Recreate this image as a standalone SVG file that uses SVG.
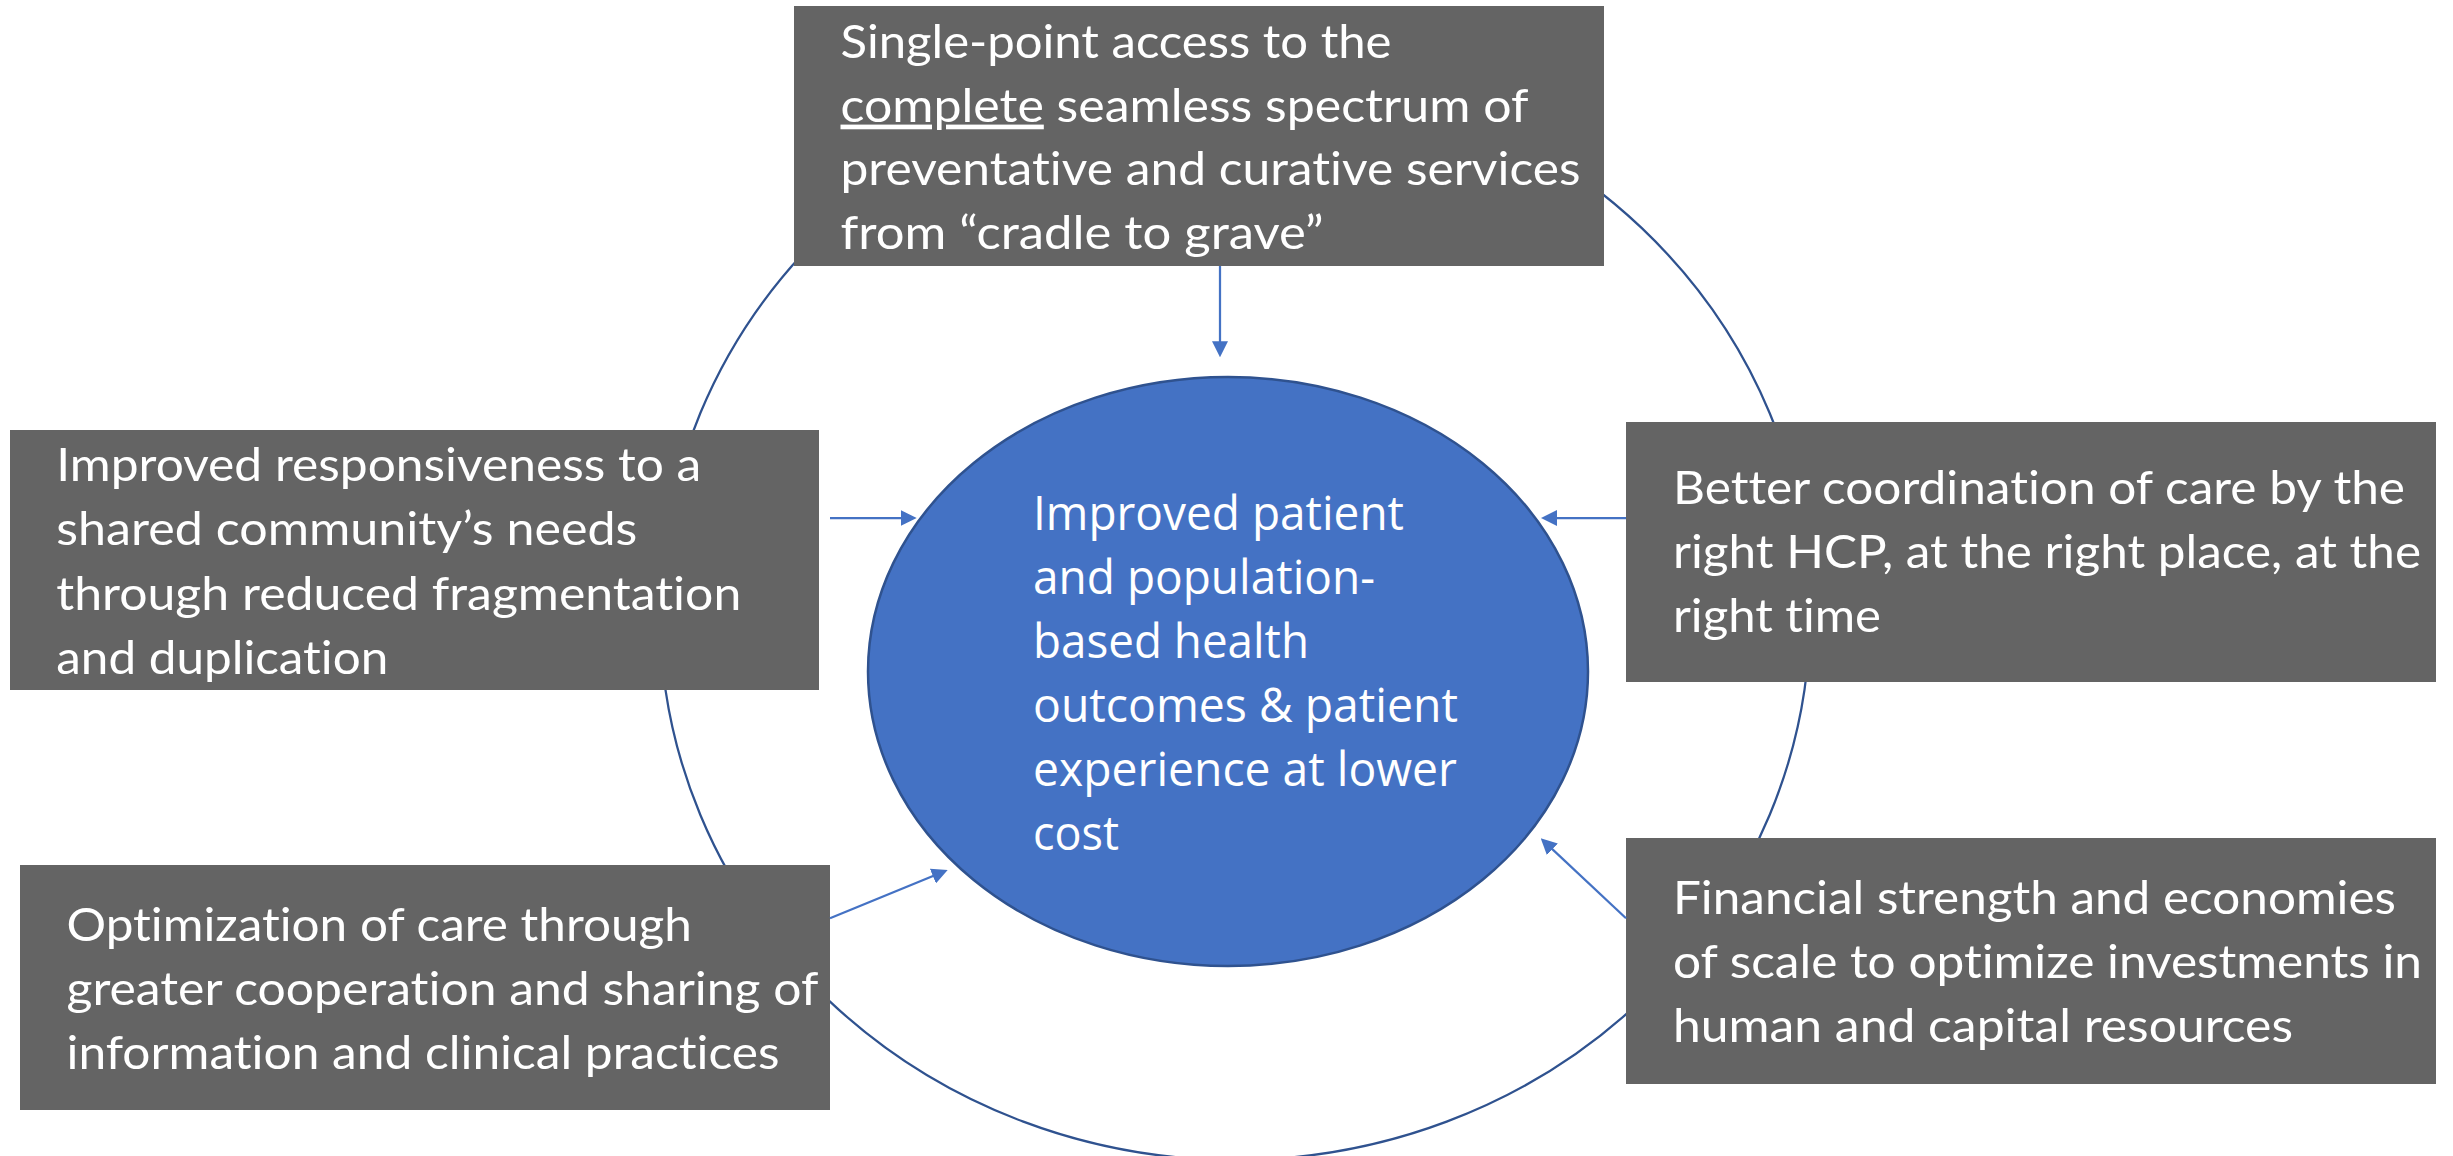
<svg xmlns="http://www.w3.org/2000/svg" width="2453" height="1156" viewBox="0 0 2453 1156">
  <style>
    .box { fill: #646464; }
    .bt { font-family: Lato, "Liberation Sans", sans-serif; font-size: 47px; fill: #ffffff; font-variant-ligatures: none; }
    .et { font-family: "Open Sans", "Liberation Sans", sans-serif; font-size: 47px; fill: #ffffff; font-variant-ligatures: none; }
    .ring { fill: none; stroke: #2F528F; stroke-width: 2.25; }
    .conn { fill: none; stroke: #4472C4; stroke-width: 2.25; marker-end: url(#ah); }
    .ul { text-decoration: underline; }
  </style>
  <defs>
    <marker id="ah" viewBox="0 0 16 16" refX="10" refY="8" markerWidth="16" markerHeight="16" markerUnits="userSpaceOnUse" orient="auto">
      <path d="M0,0 L16,8 L0,16 z" fill="#4472C4"/>
    </marker>
  </defs>
  <rect x="0" y="0" width="2453" height="1156" fill="#ffffff"/>

  <g id="ring">
    <ellipse class="ring" cx="1235" cy="614" rx="575" ry="546"/>
  </g>

  <g id="node-top">
    <rect class="box" x="794" y="6" width="810" height="260"/>
    <text class="bt" x="840.5" y="58" textLength="551" lengthAdjust="spacingAndGlyphs">Single-point access to the</text>
    <text class="bt" x="840.5" y="121.6" textLength="688" lengthAdjust="spacingAndGlyphs"><tspan class="ul">complete</tspan> seamless spectrum of</text>
    <text class="bt" x="840.5" y="185.2" textLength="740" lengthAdjust="spacingAndGlyphs">preventative and curative services</text>
    <text class="bt" x="840.5" y="248.8" textLength="483" lengthAdjust="spacingAndGlyphs">from “cradle to grave”</text>
  </g>

  <g id="node-left">
    <rect class="box" x="10" y="430" width="809" height="260"/>
    <text class="bt" x="56.3" y="481" textLength="645" lengthAdjust="spacingAndGlyphs">Improved responsiveness to a</text>
    <text class="bt" x="56.3" y="545" textLength="581" lengthAdjust="spacingAndGlyphs">shared community’s needs</text>
    <text class="bt" x="56.3" y="609.5" textLength="685" lengthAdjust="spacingAndGlyphs">through reduced fragmentation</text>
    <text class="bt" x="56.3" y="674" textLength="332" lengthAdjust="spacingAndGlyphs">and duplication</text>
  </g>

  <g id="node-right">
    <rect class="box" x="1626" y="422" width="810" height="260"/>
    <text class="bt" x="1673" y="504" textLength="732" lengthAdjust="spacingAndGlyphs">Better coordination of care by the</text>
    <text class="bt" x="1673" y="568" textLength="748" lengthAdjust="spacingAndGlyphs">right HCP, at the right place, at the</text>
    <text class="bt" x="1673" y="632" textLength="208" lengthAdjust="spacingAndGlyphs">right time</text>
  </g>

  <g id="node-bottom-left">
    <rect class="box" x="20" y="865" width="810" height="245"/>
    <text class="bt" x="66.5" y="941" textLength="625.5" lengthAdjust="spacingAndGlyphs">Optimization of care through</text>
    <text class="bt" x="66.5" y="1005" textLength="752" lengthAdjust="spacingAndGlyphs">greater cooperation and sharing of</text>
    <text class="bt" x="66.5" y="1069" textLength="713" lengthAdjust="spacingAndGlyphs">information and clinical practices</text>
  </g>

  <g id="node-bottom-right">
    <rect class="box" x="1626" y="838" width="810" height="246"/>
    <text class="bt" x="1673" y="914" textLength="723" lengthAdjust="spacingAndGlyphs">Financial strength and economies</text>
    <text class="bt" x="1673" y="978" textLength="749" lengthAdjust="spacingAndGlyphs">of scale to optimize investments in</text>
    <text class="bt" x="1673" y="1042" textLength="620" lengthAdjust="spacingAndGlyphs">human and capital resources</text>
  </g>

  <g id="connectors">
    <path class="conn" d="M1220,266 L1220,351.3"/>
    <path class="conn" d="M830,518 L910.7,518"/>
    <path class="conn" d="M1626,518 L1547,518"/>
    <path class="conn" d="M830,918.3 L942.15,872.28"/>
    <path class="conn" d="M1626,918.3 L1545.08,842.41"/>
  </g>

  <g id="node-center">
    <ellipse cx="1228" cy="671.5" rx="360" ry="294.5" fill="#4472C4" stroke="#2F528F" stroke-width="2.5"/>
    <text class="et" x="1033" y="529.5" textLength="371" lengthAdjust="spacingAndGlyphs">Improved patient</text>
    <text class="et" x="1033" y="593.5" textLength="342" lengthAdjust="spacingAndGlyphs">and population-</text>
    <text class="et" x="1033" y="657.5" textLength="276" lengthAdjust="spacingAndGlyphs">based health</text>
    <text class="et" x="1033" y="721.5" textLength="425" lengthAdjust="spacingAndGlyphs">outcomes &amp; patient</text>
    <text class="et" x="1033" y="785.5" textLength="424" lengthAdjust="spacingAndGlyphs">experience at lower</text>
    <text class="et" x="1033" y="849.5" textLength="86" lengthAdjust="spacingAndGlyphs">cost</text>
  </g>
</svg>
